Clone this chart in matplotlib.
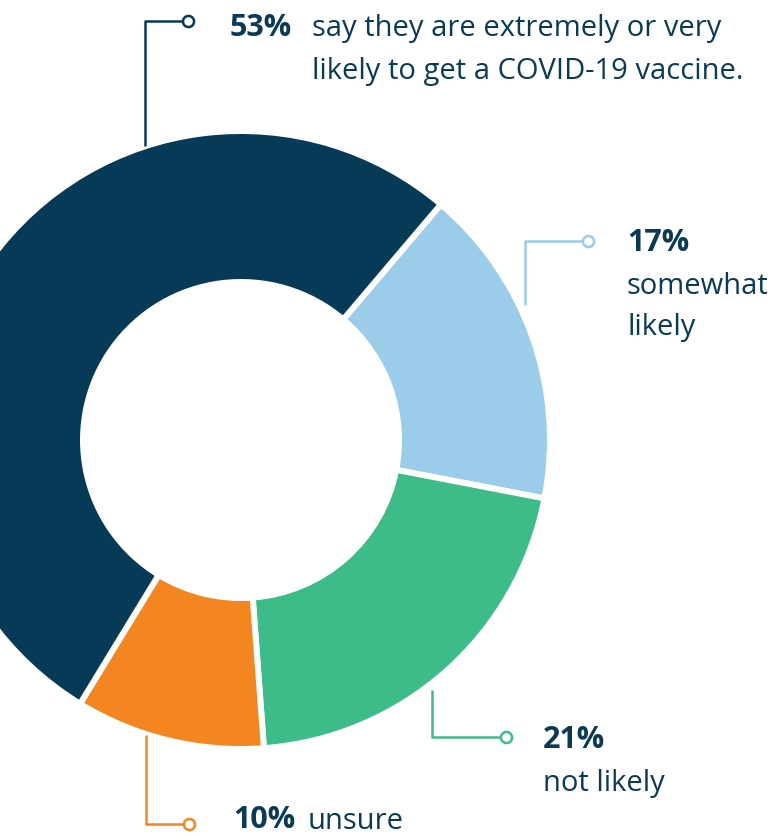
import numpy as np
import matplotlib.pyplot as plt

# slices, clockwise from the upper-right boundary
labels = ["somewhat likely", "not likely", "unsure", "extremely or very likely"]
values = [17, 21, 10, 53]
colors = ["#9BCDEB", "#3DBB89", "#F48622", "#073A56"]

pcts = ["53%", "17%", "21%", "10%"]
texts = [["say they are extremely or very", "likely to get a COVID-19 vaccine."],
         ["somewhat", "likely"], ["not likely"], ["unsure"]]

navy = "#0B3A56"
H = 838

plt.rcParams["font.family"] = ["Open Sans", "DejaVu Sans"]

fig = plt.figure(figsize=(7.72, 8.38), dpi=100)
ax = fig.add_axes([0, 0, 1, 1])

cx, cy, R = 241, H - 440, 309
ax.pie(values, colors=colors, startangle=49.7, counterclock=False,
       radius=R, center=(cx, cy),
       wedgeprops=dict(width=151, edgecolor="white", linewidth=4.3))

ax.set_xlim(0, 772)
ax.set_ylim(0, H)
ax.set_aspect("equal")
ax.axis("off")

fs = 21

def leader(pts, color):
    xs = [p[0] for p in pts]
    ys = [H - p[1] for p in pts]
    ax.plot(xs, ys, color=color, lw=1.8, zorder=5, solid_capstyle="butt")
    ax.plot(xs[-1], ys[-1], "o", ms=8, mfc="white", mec=color, mew=1.8, zorder=6)

def lines(x, y0, rows, step=42):
    for i, s in enumerate(rows):
        ax.text(x, H - (y0 + i * step), s, fontsize=fs, color=navy, va="center")

def pct(x, y, s):
    ax.text(x, H - y, s, fontsize=fs + 1, fontweight="bold", color=navy, va="center")

# 53%
leader([(145, 146), (145, 21), (188, 21)], colors[3])
pct(230, 28, pcts[0])
lines(312, 29, texts[0])
# 17%
leader([(525, 305), (525, 241), (588, 241)], colors[0])
pct(627, 243, pcts[1])
lines(627, 286, texts[1])
# 21%
leader([(432, 690), (432, 737), (506, 737)], colors[1])
pct(543, 740, pcts[2])
lines(543, 783, texts[2])
# 10%
leader([(146, 735), (146, 824), (189, 824)], colors[2])
pct(233, 820, pcts[3])
lines(308, 821, texts[3])

fig.savefig("out.png", dpi=100)
